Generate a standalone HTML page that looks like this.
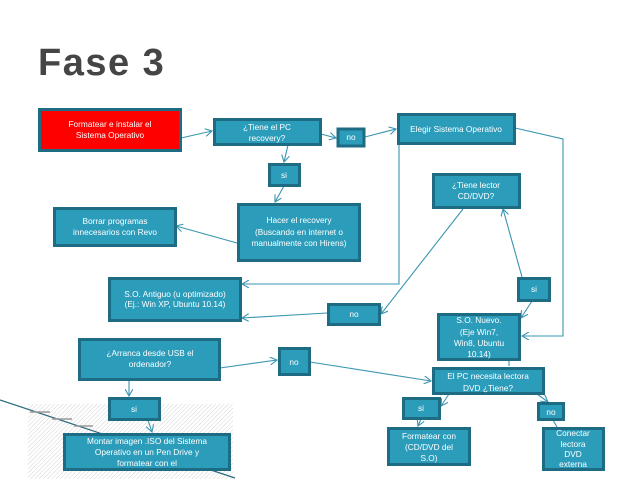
<!DOCTYPE html>
<html><head><meta charset="utf-8"><style>
html,body{margin:0;padding:0;background:#fff;}
svg{display:block;}
text{font-family:"Liberation Sans",sans-serif;fill:#fff;font-size:8.3px;text-anchor:middle;}
.b{fill:#2b9cba;stroke:#1d6c84;stroke-width:3;}
.l{stroke:#3a95b0;stroke-width:1.1;fill:none;}
</style></head><body>
<svg width="638" height="479" viewBox="0 0 638 479" xmlns="http://www.w3.org/2000/svg">
<defs>
<pattern id="h" width="3" height="3" patternUnits="userSpaceOnUse" patternTransform="rotate(45)">
<line x1="0" y1="0" x2="0" y2="3" stroke="#c8c8c8" stroke-width="0.8"/></pattern>
<marker id="a" markerWidth="8" markerHeight="8" refX="7" refY="4" orient="auto" markerUnits="userSpaceOnUse">
<path d="M0,0 L7,4 L0,8" fill="none" stroke="#3a95b0" stroke-width="1.1"/></marker>
</defs>
<rect x="28" y="404" width="205" height="75" fill="url(#h)"/>
<line x1="0" y1="400" x2="235" y2="478" stroke="#2b6a80" stroke-width="1.2"/>
<line x1="30" y1="412" x2="50" y2="412" stroke="#999" stroke-width="1.5"/>
<line x1="52" y1="419" x2="72" y2="419" stroke="#999" stroke-width="1.5"/>
<line x1="74" y1="426" x2="93" y2="426" stroke="#999" stroke-width="1.5"/>
<text x="38" y="75" style="font-size:38px;font-weight:bold;fill:#454545;text-anchor:start;letter-spacing:1.5px;">Fase 3</text>

<!-- connectors -->
<line class="l" x1="181" y1="138" x2="212" y2="131" marker-end="url(#a)"/>
<line class="l" x1="321" y1="134" x2="336" y2="138" marker-end="url(#a)"/>
<line class="l" x1="365" y1="137" x2="396" y2="129" marker-end="url(#a)"/>
<line class="l" x1="288" y1="145" x2="284" y2="162" marker-end="url(#a)"/>
<line class="l" x1="284" y1="186" x2="275" y2="202" marker-end="url(#a)"/>
<line class="l" x1="237" y1="243" x2="176" y2="226" marker-end="url(#a)"/>
<polyline class="l" points="399,144 399,284 242,284" marker-end="url(#a)"/>
<polyline class="l" points="515,128 563,139 563,336 522,336" marker-end="url(#a)"/>
<line class="l" x1="463" y1="209" x2="381" y2="314" marker-end="url(#a)"/>
<line class="l" x1="327" y1="313" x2="242" y2="318" marker-end="url(#a)"/>
<line class="l" x1="522" y1="277" x2="503" y2="209" marker-end="url(#a)"/>
<line class="l" x1="532" y1="301" x2="521" y2="318" marker-end="url(#a)"/>
<line class="l" x1="220" y1="368" x2="277" y2="360" marker-end="url(#a)"/>
<line class="l" x1="310" y1="362" x2="431" y2="381" marker-end="url(#a)"/>
<line class="l" x1="129" y1="380" x2="129" y2="396" marker-end="url(#a)"/>
<line class="l" x1="148" y1="420" x2="152" y2="432" marker-end="url(#a)"/>
<line class="l" x1="509" y1="360" x2="509" y2="366"/>
<line class="l" x1="449" y1="394" x2="441" y2="406" marker-end="url(#a)"/>
<line class="l" x1="537" y1="394" x2="548" y2="402" marker-end="url(#a)"/>
<line class="l" x1="421" y1="419" x2="418" y2="426" marker-end="url(#a)"/>
<line class="l" x1="553" y1="420" x2="557" y2="427"/>

<!-- boxes -->
<rect x="39.5" y="109.5" width="141" height="41" fill="#ff0000" stroke="#1d6c84" stroke-width="3"/>
<text x="110" y="127">Formatear e instalar el</text><text x="110" y="138">Sistema Operativo</text>

<rect class="b" x="214.5" y="119.5" width="106" height="25"/>
<text x="267" y="130">¿Tiene el PC</text><text x="267" y="141">recovery?</text>

<rect class="b" x="338" y="129" width="26" height="17"/><text x="351" y="140">no</text>
<rect class="b" x="398.5" y="114.5" width="116" height="29"/><text x="456" y="132">Elegir Sistema Operativo</text>
<rect class="b" x="269.5" y="164.5" width="30" height="21"/><text x="284" y="178">si</text>

<rect class="b" x="54.5" y="208.5" width="121" height="37"/>
<text x="115" y="224">Borrar programas</text><text x="115" y="235">innecesarios con Revo</text>

<rect class="b" x="238.5" y="204.5" width="121" height="56"/>
<text x="299" y="223">Hacer el recovery</text><text x="299" y="235">(Buscando en internet o</text><text x="299" y="246">manualmente con Hirens)</text>

<rect class="b" x="433.5" y="174.5" width="86" height="33"/>
<text x="476" y="188">¿Tiene lector</text><text x="476" y="199">CD/DVD?</text>

<rect class="b" x="109.5" y="278.5" width="131" height="42"/>
<text x="175" y="297">S.O. Antiguo (u optimizado)</text><text x="175" y="307">(Ej.: Win XP, Ubuntu 10.14)</text>

<rect class="b" x="518.5" y="278.5" width="31" height="22"/><text x="534" y="292">si</text>
<rect class="b" x="328.5" y="304.5" width="51" height="20"/><text x="354" y="317">no</text>

<rect class="b" x="438.5" y="314.5" width="81" height="45"/>
<text x="479" y="323">S.O. Nuevo.</text><text x="479" y="335">(Eje Win7,</text><text x="479" y="346">Win8, Ubuntu</text><text x="479" y="357">10.14)</text>

<rect class="b" x="79.5" y="339.5" width="140" height="40"/>
<text x="150" y="356">¿Arranca desde USB el</text><text x="150" y="367">ordenador?</text>

<rect class="b" x="279.5" y="348.5" width="30" height="26"/><text x="294" y="365">no</text>

<rect class="b" x="433.5" y="368.5" width="110" height="25"/>
<text x="488" y="379">El PC necesita lectora</text><text x="488" y="391">DVD ¿Tiene?</text>

<rect class="b" x="109.5" y="398.5" width="50" height="21"/><text x="134" y="412">si</text>
<rect class="b" x="403.5" y="398.5" width="36" height="20"/><text x="421" y="411">si</text>
<rect class="b" x="538.5" y="403.5" width="25" height="16"/><text x="551" y="415">no</text>

<rect class="b" x="64.5" y="434.5" width="165" height="35"/>
<text x="147" y="444">Montar imagen .ISO del Sistema</text><text x="147" y="455">Operativo en un Pen Drive y</text><text x="147" y="466">formatear con el</text>

<rect class="b" x="388.5" y="428.5" width="81" height="36"/>
<text x="429" y="439">Formatear con</text><text x="429" y="450">(CD/DVD del</text><text x="429" y="461">S.O)</text>

<rect class="b" x="543.5" y="428.5" width="60" height="41"/>
<text x="573" y="436">Conectar</text><text x="573" y="447">lectora</text><text x="573" y="457">DVD</text><text x="573" y="467">externa</text>
</svg>
</body></html>
